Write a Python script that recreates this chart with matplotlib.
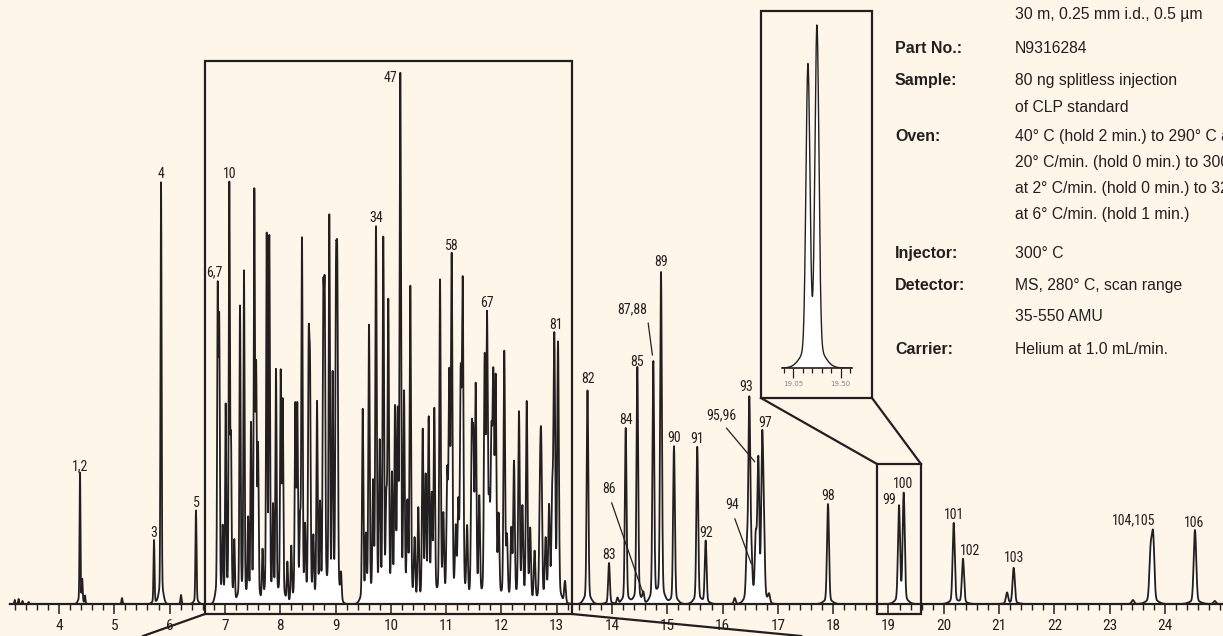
import numpy as np
import matplotlib
matplotlib.use("Agg")
from matplotlib import pyplot as plt
from matplotlib import font_manager as fm
from matplotlib.patches import Rectangle

bg = "#fdf6e9"
ink = "#231f20"

# peak apexes: retention time (min), height (arb. units above baseline)
rt = [3.20, 3.27, 3.34, 3.45,
      4.380, 4.42, 4.47, 5.139, 5.718, 5.845, 6.206, 6.477,
      6.870, 6.897, 6.960, 7.014, 7.080, 7.110, 7.17, 7.273, 7.345, 7.42, 7.472, 7.532,
      7.565, 7.599, 7.68, 7.756, 7.803, 7.87, 7.924, 8.009, 8.045, 8.13, 8.20, 8.273,
      8.309, 8.36, 8.394, 8.450, 8.515, 8.539, 8.60, 8.666, 8.72, 8.779, 8.805, 8.888,
      8.948, 9.009, 9.033, 9.10,
      9.492, 9.55, 9.606, 9.68, 9.732, 9.80, 9.864, 9.92, 9.955, 10.02, 10.076, 10.125,
      10.172, 10.239, 10.30, 10.353, 10.43, 10.497, 10.577, 10.63, 10.685, 10.74, 10.787,
      10.890, 10.95, 11.02, 11.058, 11.101, 11.174, 11.22, 11.264, 11.300, 11.38, 11.463,
      11.492, 11.535, 11.60, 11.698, 11.740, 11.781, 11.82, 11.854, 11.896, 11.95, 12.052,
      12.10, 12.18, 12.228, 12.318, 12.38, 12.458, 12.52, 12.60, 12.698, 12.721, 12.80,
      12.861, 12.92, 12.957, 13.024, 13.150,
      13.557, 13.946, 14.10, 14.248, 14.458, 14.566, 14.747, 14.886, 15.121, 15.542,
      15.694, 16.22, 16.44, 16.483, 16.52, 16.60, 16.646, 16.715, 16.745, 16.84,
      17.906, 19.190, 19.275, 20.179, 20.347, 21.143, 21.264, 23.42, 23.74, 23.785,
      24.542, 24.90]
height = [4, 5, 3, 2,
          131, 22, 8, 6, 64, 424, 9, 94,
          305, 270, 70, 193, 412, 150, 60, 296, 331, 80, 172, 401,
          220, 147, 50, 361, 359, 90, 231, 226, 197, 40, 55, 193,
          190, 70, 360, 67, 242, 215, 60, 199, 90, 285, 287, 381,
          216, 297, 302, 25,
          193, 60, 275, 110, 371, 150, 359, 90, 295, 120, 186, 174,
          520, 200, 90, 315, 60, 93, 170, 120, 180, 100, 190,
          321, 80, 120, 216, 340, 66, 90, 216, 312, 70, 156,
          147, 210, 100, 236, 275, 86, 150, 211, 215, 80, 250,
          60, 70, 138, 188, 90, 199, 70, 50, 100, 137, 60,
          92, 100, 257, 255, 22,
          214, 41, 6, 176, 237, 10, 242, 331, 158, 157,
          63, 6, 50, 198, 40, 60, 138, 150, 70, 8,
          100, 96, 109, 81, 45, 11, 36, 4, 50, 65,
          74, 3]

# numbered peaks
label_text = ["1,2", "3", "4", "5", "6,7", "10", "34", "47", "58", "67", "81", "82", "83",
              "84", "85", "86", "87,88", "89", "90", "91", "92", "93", "94", "95,96", "97",
              "98", "99", "100", "101", "102", "103", "104,105", "106"]
label_rt = [4.380, 5.718, 5.845, 6.477, 6.870, 7.080, 9.732, 10.172, 11.101, 11.740,
            12.957, 13.557, 13.946, 14.248, 14.458, 14.566, 14.747, 14.886, 15.121, 15.542,
            15.694, 16.483, 16.52, 16.646, 16.715, 17.906, 19.190, 19.275, 20.179, 20.347,
            21.264, 23.785, 24.542]

# method conditions
info_keys = ["", "Part No.:", "Sample:", "", "Oven:", "", "", "", "Injector:", "Detector:", "", "Carrier:"]
info_vals = ["30 m, 0.25 mm i.d., 0.5 µm", "N9316284", "80 ng splitless injection",
             "of CLP standard", "40° C (hold 2 min.) to 290° C at",
             "20° C/min. (hold 0 min.) to 300° C", "at 2° C/min. (hold 0 min.) to 320° C",
             "at 6° C/min. (hold 1 min.)", "300° C", "MS, 280° C, scan range", "35-550 AMU",
             "Helium at 1.0 mL/min."]
info_rows = [19, 53, 85, 112, 141, 167, 193, 219, 258, 290, 321, 354]   # baseline, px from top

inset_ticks = [19.05, 19.50]
inset_ticklabels = ["19.05", "19.50"]


def narrow_font():
    # first condensed face that is installed, else plain Roboto
    for fam, st in [("Roboto Condensed", "normal"), ("Liberation Sans Narrow", "normal"),
                    ("DejaVu Sans", "condensed"), ("Open Sans", "condensed"),
                    ("Noto Sans", "condensed")]:
        try:
            path = fm.findfont(fm.FontProperties(family=fam, stretch=st),
                               fallback_to_default=False)
        except ValueError:
            continue
        low = path.lower()
        if "condensed" in low or "narrow" in low or "cond" in low:
            return path, 10
    return fm.findfont(fm.FontProperties(family="Roboto")), 8.5


nfile, nsize = narrow_font()
lab_font = fm.FontProperties(fname=nfile, size=nsize)
tick_font = fm.FontProperties(fname=nfile, size=nsize + 1)

# build the trace from the peak table
t = np.arange(3.11, 25.05, 0.002)
sig = np.zeros_like(t)
for r, h in zip(rt, height):
    s = 0.008 + 0.0007 * (r - 4)
    z = (t - r) / s
    sig += h * (0.95 * np.exp(-0.5 * z ** 2) + 0.05 * np.exp(-0.5 * (z / 4) ** 2))

W, H = 1223, 636
fig = plt.figure(figsize=(W / 100, H / 100), dpi=100, facecolor=bg)
ax = fig.add_axes([0, 0, 1, 1], facecolor=bg)

ax.fill_between(t, 0, sig, color="white", lw=0)
ax.plot(t, sig, color=ink, lw=1.3)

ax.set_xlim(2.933, 25.049)
ax.set_ylim(-32, 604)
for s in ["top", "left", "right"]:
    ax.spines[s].set_visible(False)
ax.spines["bottom"].set_position(("data", 0))
ax.spines["bottom"].set_bounds(3.11, 25.049)
ax.spines["bottom"].set_linewidth(1.6)
ax.spines["bottom"].set_color(ink)
ax.yaxis.set_visible(False)
ax.set_xticks(range(4, 25))
ax.set_xticks(np.arange(3.2, 25.05, 0.2), minor=True)
ax.tick_params(axis="x", which="major", direction="out", length=7, width=1.1,
               color=ink, labelcolor=ink, pad=3.5)
ax.tick_params(axis="x", which="minor", direction="out", length=4, width=1.0, color=ink)
for lab in ax.get_xticklabels():
    lab.set_fontproperties(tick_font)

# zoom boxes and connectors
ax.add_patch(Rectangle((6.640, -10), 13.277 - 6.640, 553.5, fill=False, ec=ink, lw=1.6, zorder=3))
ax.add_patch(Rectangle((18.792, -10), 19.588 - 18.792, 150, fill=False, ec=ink, lw=1.6, zorder=3))
ax.add_patch(Rectangle((16.694, 206), 18.702 - 16.694, 387, fill=False, ec=ink, lw=1.6, zorder=3))
ax.plot([16.694, 18.792], [206, 140], color=ink, lw=1.6)
ax.plot([18.702, 19.588], [206, 140], color=ink, lw=1.6)
ax.plot([6.640, 5.52], [-10, -32], color=ink, lw=1.6, clip_on=False)
ax.plot([13.277, 17.42], [-10, -32], color=ink, lw=1.6, clip_on=False)

# peak labels
leader = {"86": (-34, 105, 0, (0.5, 0)), "87,88": (-21, 53, 5, (1, 0)),
          "94": (-19, 59, 0, (0.5, 0)), "95,96": (-37, 51, 4, (0.5, 0))}
nudge = {"1,2": (0, 2), "6,7": (-3, 5), "81": (2, 3), "85": (0, 1), "89": (0, 6),
         "82": (0, 7), "99": (-10, 1), "100": (-1, 5), "102": (7, 4), "103": (0, 6),
         "104,105": (-19, 5), "106": (-1, 3), "58": (0, 3), "3": (0, 3), "5": (0, 3),
         "93": (-3, 5), "97": (3, 3)}
rt_arr = np.array(rt)
for txt, r in zip(label_text, label_rt):
    i = int(np.argmin(np.abs(rt_arr - r)))
    if txt in leader:
        dx, dy, gap, rel = leader[txt]
        ax.annotate(txt, (rt[i], height[i]), xytext=(dx * 0.72, dy * 0.72),
                    textcoords="offset points", ha="center", va="center",
                    fontproperties=lab_font, color=ink,
                    arrowprops=dict(arrowstyle="-", color=ink, lw=0.9, shrinkA=3,
                                    shrinkB=gap, relpos=rel))
        continue
    top = sig[np.abs(t - r) < 0.012].max()
    if txt == "47":
        ax.annotate(txt, (r, top), xytext=(-3 * 0.72, 2 * 0.72), textcoords="offset points",
                    ha="right", va="top", fontproperties=lab_font, color=ink)
        continue
    dx, dy = nudge.get(txt, (0, 4))
    ax.annotate(txt, (r, top), xytext=(dx * 0.72, dy * 0.72), textcoords="offset points",
                ha="center", va="baseline", fontproperties=lab_font, color=ink)

# inset: peaks 99/100 enlarged
ins = fig.add_axes([782 / W, (H - 368) / H, 70 / W, 348 / H])
ins.patch.set_alpha(0)
ins.fill_between(t, 0, sig, color="white", lw=0)
ins.plot(t, sig, color=ink, lw=1.0)
ins.set_xlim(18.945, 19.606)
win = (t > 18.945) & (t < 19.606)
ins.set_ylim(0, sig[win].max() * 348 / 343)
for s in ["top", "left", "right"]:
    ins.spines[s].set_visible(False)
ins.spines["bottom"].set_linewidth(1.2)
ins.spines["bottom"].set_color(ink)
ins.yaxis.set_visible(False)
ins.set_xticks(inset_ticks)
ins.set_xticklabels(inset_ticklabels)
ins.set_xticks(np.arange(18.96, 19.61, 0.09), minor=True)
ins.tick_params(axis="x", which="major", length=7, width=0.9, color=ink,
                labelsize=5, labelcolor="#8a8580", pad=2)
ins.tick_params(axis="x", which="minor", length=3.5, width=0.9, color=ink)

# conditions table
for key, val, yb in zip(info_keys, info_vals, info_rows):
    if key:
        fig.text(895 / W, 1 - yb / H, key, fontsize=11.5, fontweight="bold", color=ink,
                 va="baseline", family=["Liberation Sans", "DejaVu Sans"])
    fig.text(1015 / W, 1 - yb / H, val, fontsize=11.3, color=ink, va="baseline",
             family=["Liberation Sans", "DejaVu Sans"])

fig.savefig("out.png", dpi=100, facecolor=bg)
